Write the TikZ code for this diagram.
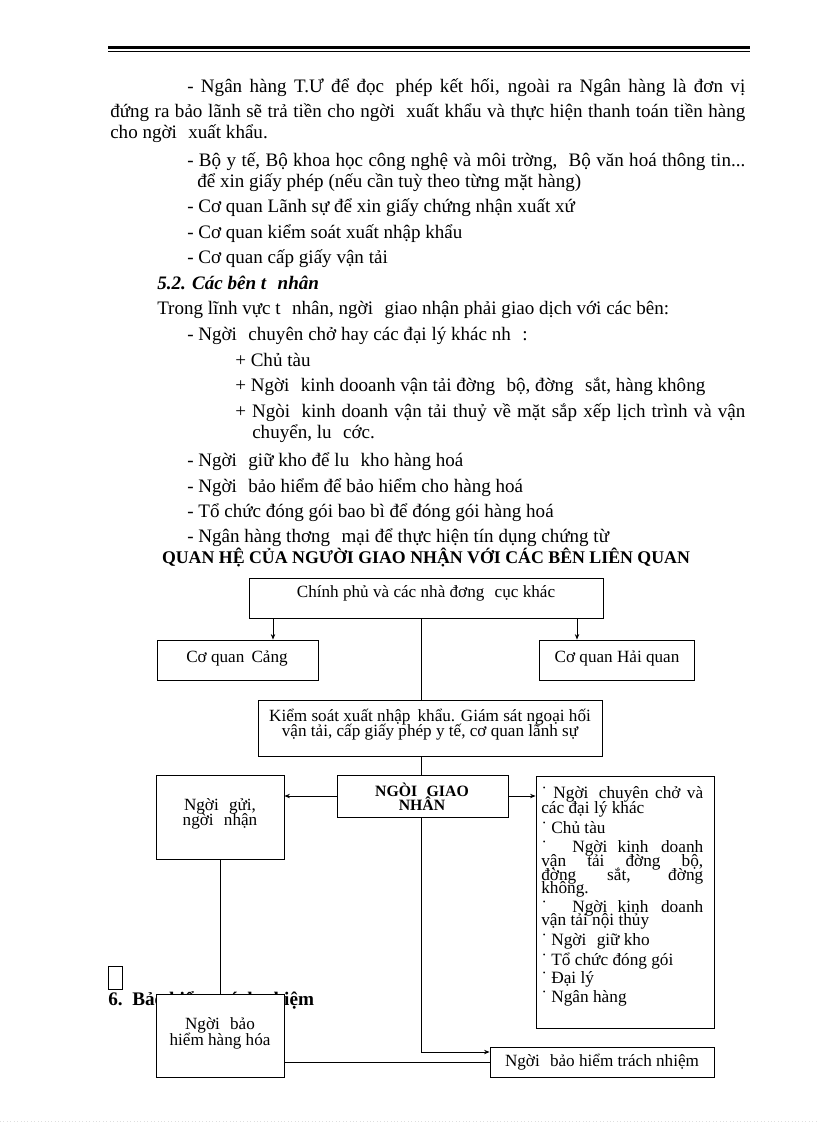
\documentclass[tikz,border=0pt]{standalone}
\usepackage{fontspec}
\setmainfont{Liberation Serif}
\usetikzlibrary{arrows.meta,calc}
\newdimen\pxu \pxu=0.7296pt
\newcommand\jl[2]{\makebox[#1\pxu][s]{#2}}
\newcommand\gp{\hspace{0.6em}}
\newcommand\mybox[5]{\node[box, minimum width={(#4-#2)*0.7296pt}, minimum height={(#5-#3)*0.7296pt}] (#1) at ({(#2+#4)/2},{(#3+#5)/2}) {};}
\tikzset{
  body/.style={anchor=base west, inner sep=0, font=\fontsize{13.9}{15}\selectfont},
  btxt/.style={anchor=base, inner sep=0, font=\fontsize{12.5}{13}\selectfont},
  ltxt/.style={anchor=base west, inner sep=0, font=\fontsize{12.6}{13}\selectfont},
  box/.style={draw, line width=0.6pt, inner sep=0, fill=white},
  ln/.style={line width=0.6pt},
  arr/.style={line width=0.6pt, -{Stealth[length=4pt,width=3.2pt]}}
}
\begin{document}
\begin{tikzpicture}[x=0.7296pt,y=-0.7296pt]
\useasboundingbox (0,0) rectangle (816,1123);
% header rule
\draw[line width=1.7pt] (108,47.5) -- (750,47.5);
\draw[line width=0.6pt] (108,51) -- (750,51);
% body text
\node[body] (t1) at (187,92) {\jl{558}{- Ngân hàng T.Ư để đọc\gp phép kết hối, ngoài ra Ngân hàng là đơn vị}};
\node[body] (t2) at (110,117) {\jl{635}{đứng ra bảo lãnh sẽ trả tiền cho ngời\gp xuất khẩu và thực hiện thanh toán tiền hàng}};
\node[body] (t3) at (110,138) {cho ngời\gp xuất khẩu.};
\node[body] (t4) at (187,166) {\jl{558}{- Bộ y tế, Bộ khoa học công nghệ và môi trờng,\gp Bộ văn hoá thông tin...}};
\node[body] (t5) at (197,187) {để xin giấy phép (nếu cần tuỳ theo từng mặt hàng)};
\node[body] (t6) at (187,212) {- Cơ quan Lãnh sự để xin giấy chứng nhận xuất xứ};
\node[body] (t7) at (187,238) {- Cơ quan kiểm soát xuất nhập khẩu};
\node[body] (t8) at (187,263) {- Cơ quan cấp giấy vận tải};
\node[body, font=\fontsize{13.9}{15}\selectfont\bfseries\itshape] (t9) at (157,289) {5.2. Các bên t\gp nhân};
\node[body] (t10) at (157,314) {Trong lĩnh vực t\gp nhân, ngời\gp giao nhận phải giao dịch với các bên:};
\node[body] (t11) at (187,340) {- Ngời\gp chuyên chở hay các đại lý khác nh\gp :};
\node[body] (t12) at (235,366) {+ Chủ tàu};
\node[body] (t13) at (235,391) {+ Ngời\gp kinh dooanh vận tải đờng\gp bộ, đờng\gp sắt, hàng không};
\node[body] (t14) at (235,417) {\jl{510}{+ Ngòi\gp kinh doanh vận tải thuỷ về mặt sắp xếp lịch trình và vận}};
\node[body] (t15) at (252,438) {chuyển, lu\gp cớc.};
\node[body] (t16) at (187,466) {- Ngời\gp giữ kho để lu\gp kho hàng hoá};
\node[body] (t17) at (187,492) {- Ngời\gp bảo hiểm để bảo hiểm cho hàng hoá};
\node[body] (t18) at (187,517) {- Tổ chức đóng gói bao bì để đóng gói hàng hoá};
\node[body] (t19) at (187,542) {- Ngân hàng thơng\gp mại để thực hiện tín dụng chứng từ};
\node[anchor=base, inner sep=0, font=\fontsize{13}{14}\selectfont\bfseries] (title) at (426,563) {QUAN HỆ CỦA NGƯỜI GIAO NHẬN VỚI CÁC BÊN LIÊN QUAN};
% heading 6 (partly hidden) and missing glyph box
\node[anchor=base west, inner sep=0, font=\fontsize{14}{15}\selectfont\bfseries] (h6) at (108,1005) {6.\ \ Bảo hiểm trách nhiệm};
\draw[line width=0.5pt] (108,966) rectangle (122,989);
% boxes
\mybox{gov}{249}{578}{603}{618}
\mybox{cang}{157}{640}{318}{680}
\mybox{hq}{539}{640}{694}{680}
\mybox{ks}{258}{700}{602}{756}
\mybox{ngn}{337}{775}{508}{817}
\mybox{gui}{156}{775}{284}{859}
\mybox{lst}{536}{776}{714}{1028}
\mybox{bhh}{156}{994}{284}{1077}
\mybox{btn}{490}{1047}{714}{1077}
% box texts
\node[btxt] (govt) at (426,597) {Chính phủ và các nhà đơng\gp cục khác};
\node[btxt] (cangt) at (237,662) {Cơ quan\, Cảng};
\node[btxt] (hqt) at (617,662) {Cơ quan Hải quan};
\node[btxt] (kst1) at (430,721) {Kiểm soát xuất nhập\, khẩu. Giám sát ngoại hối};
\node[btxt] (kst2) at (430,736) {vận tải, cấp giấy phép y tế, cơ quan lãnh sự};
\node[btxt, font=\fontsize{11.5}{12}\selectfont\bfseries] (ngt1) at (422,796) {NGÒI\gp GIAO};
\node[btxt, font=\fontsize{11.5}{12}\selectfont\bfseries] (ngt2) at (422,810) {NHÂN};
\node[btxt] (guit1) at (220,810) {Ngời\gp gửi,};
\node[btxt] (guit2) at (220,825) {ngời\gp nhận};
\node[btxt] (bhht1) at (220,1029) {Ngời\gp bảo};
\node[btxt] (bhht2) at (220,1045) {hiểm hàng hóa};
\node[btxt] (btnt) at (602,1066) {Ngời\gp bảo hiểm trách nhiệm};
% list in right box
\node[ltxt] (l1) at (541,798) {\jl{162}{˙ Ngời\gp chuyên chở và}};
\node[ltxt] (l2) at (541,813) {các đại lý khác};
\node[ltxt] (l3) at (541,833) {˙ Chủ tàu};
\node[ltxt] (l4) at (541,852) {\jl{162}{˙\ \ Ngời\gp kinh doanh}};
\node[ltxt] (l5) at (541,866) {\jl{162}{vận tải đờng bộ,}};
\node[ltxt] (l6) at (541,880) {\jl{162}{đờng sắt, đờng}};
\node[ltxt] (l7) at (541,893) {không.};
\node[ltxt] (l8) at (541,912) {\jl{162}{˙\ \ Ngời\gp kinh doanh}};
\node[ltxt] (l9) at (541,925) {vận tải nội thủy};
\node[ltxt] (l10) at (541,945) {˙ Ngời\gp giữ kho};
\node[ltxt] (l11) at (541,965) {˙ Tổ chức đóng gói};
\node[ltxt] (l12) at (541,983) {˙ Đại lý};
\node[ltxt] (l13) at (541,1002) {˙ Ngân hàng};
% connector coordinates
\coordinate (xa) at (273,0);
\coordinate (xb) at (577,0);
\coordinate (xc) at (421,0);
\coordinate (ya) at (0,1052);
% connectors
\draw[arr] (gov.south -| xa) -- (cang.north -| xa);
\draw[arr] (gov.south -| xb) -- (hq.north -| xb);
\draw[ln] (gov.south -| xc) -- (ks.north -| xc);
\draw[ln] (ks.south -| xc) -- (ngn.north -| xc);
\draw[arr] (ngn.west) -- (gui.east |- ngn.west);
\draw[arr] (ngn.east) -- (lst.west |- ngn.east);
\draw[ln] (gui.south) -- (bhh.north);
\draw[arr] (ngn.south -| xc) |- (btn.west |- ya);
\draw[ln] (bhh.east |- btn.west) -- (btn.west);
% faint bottom dotted line
\draw[gray!25, dotted, line width=0.5pt] (0,1121) -- (816,1121);
\end{tikzpicture}
\end{document}
